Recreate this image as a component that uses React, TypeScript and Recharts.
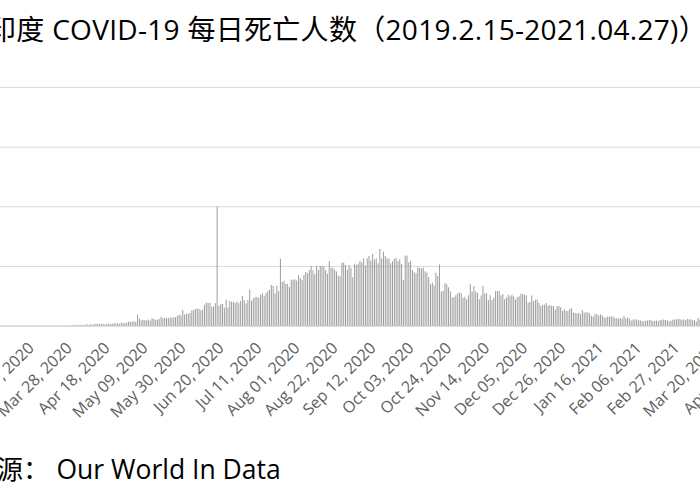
import React from "react";
import { BarChart, Bar, XAxis, YAxis, CartesianGrid } from "recharts";

// India COVID-19 daily new deaths, 2020-02-15 .. 2021-04-27
const FEB_2020 = [0, 0, 0, 0, 0, 0, 0, 0, 0, 0, 0, 0, 0, 0, 0];
const MAR_2020 = [0, 0, 0, 0, 0, 0, 0, 0, 0, 0, 0, 1, 0, 1, 0, 0, 1, 0, 1, 1, 0, 3, 2, 1, 2, 3, 1, 6, 6, 3, 17];
const APR_2020 = [3, 15, 15, 12, 17, 30, 12, 35, 20, 33, 37, 32, 36, 35, 38, 26, 33, 37, 31, 36, 45, 45, 47, 38, 57, 56, 47, 57, 71, 67];
const MAY_2020 = [76, 81, 69, 194, 127, 94, 103, 96, 95, 111, 86, 129, 121, 100, 104, 119, 157, 131, 140, 132, 134, 142, 137, 146, 148, 170, 194, 175, 269, 193, 205];
const JUN_2020 = [204, 217, 259, 273, 286, 294, 287, 265, 272, 357, 396, 386, 389, 325, 325, 380, 2003, 336, 370, 375, 306, 445, 312, 418, 407, 407, 384, 410, 380, 418];
const JUL_2020 = [507, 434, 379, 442, 613, 425, 467, 482, 487, 475, 519, 551, 500, 553, 582, 606, 687, 671, 543, 681, 587, 1129, 740, 757, 705, 708, 654, 779, 775, 779, 764];
const AUG_2020 = [853, 803, 771, 857, 904, 886, 933, 1007, 933, 871, 1007, 941, 1006, 1007, 996, 941, 876, 1092, 977, 983, 945, 912, 848, 836, 1059, 1063, 1021, 948, 1021, 971, 816];
const SEP_2020 = [1045, 1025, 1043, 1089, 1065, 1133, 1016, 1133, 1172, 1096, 1209, 1114, 1136, 1054, 1290, 1132, 1247, 1174, 1130, 1133, 1053, 1085, 1129, 1141, 1089, 1124, 1039, 776, 1179, 1181];
const OCT_2020 = [1069, 1095, 940, 903, 884, 986, 971, 963, 980, 918, 895, 816, 706, 730, 680, 895, 837, 1033, 579, 587, 717, 702, 650, 578, 480, 488, 517, 543, 563, 551, 470];
const NOV_2020 = [490, 449, 514, 704, 577, 670, 577, 559, 447, 512, 673, 547, 550, 435, 516, 435, 474, 585, 584, 590, 511, 537, 447, 480, 524, 500, 524, 496, 443, 482];
const DEC_2020 = [501, 540, 540, 524, 512, 391, 402, 512, 415, 442, 445, 387, 330, 354, 355, 387, 338, 347, 341, 336, 278, 333, 336, 314, 251, 279, 252, 251, 286, 299, 228];
const JAN_2021 = [217, 214, 224, 201, 264, 222, 234, 228, 212, 168, 161, 201, 198, 175, 191, 181, 145, 137, 162, 151, 163, 155, 136, 131, 127, 136, 123, 173, 127, 142, 127];
const FEB_2021 = [94, 107, 107, 110, 95, 96, 84, 78, 87, 94, 100, 95, 83, 90, 91, 78, 101, 104, 110, 101, 97, 78, 89, 104, 108, 113, 118, 113];
const MAR_2021 = [106, 110, 98, 117, 108, 113, 96, 97, 77, 133, 99, 116, 112, 115, 131, 131, 188, 172, 154, 197, 161, 212, 199, 275, 271, 257, 291, 312, 272, 354, 459];
const APR_2021 = [469, 714, 514, 478, 446, 630, 685, 794, 780, 839, 904, 879, 1027, 1038, 1185, 1341, 1501, 1619, 1761, 2023, 2104, 2263, 2624, 2767, 2812, 2771, 3293];

const DEATHS = [
  ...FEB_2020, ...MAR_2020, ...APR_2020, ...MAY_2020, ...JUN_2020, ...JUL_2020,
  ...AUG_2020, ...SEP_2020, ...OCT_2020, ...NOV_2020, ...DEC_2020,
  ...JAN_2021, ...FEB_2021, ...MAR_2021, ...APR_2021,
];

const MONTH_NAMES = ["Jan", "Feb", "Mar", "Apr", "May", "Jun", "Jul", "Aug", "Sep", "Oct", "Nov", "Dec"];
const Y_TICKS = [0, 1000, 2000, 3000, 4000];
const TITLE = "印度 COVID-19 每日死亡人数（2019.2.15-2021.04.27)）";
const SOURCE_LABEL = "数据来源：";
const SOURCE_NAME = "Our World In Data";

function buildDates(n: number): string[] {
  const out: string[] = [];
  const d = new Date(Date.UTC(2020, 1, 15));
  for (let i = 0; i < n; i++) {
    out.push(`${MONTH_NAMES[d.getUTCMonth()]} ${String(d.getUTCDate()).padStart(2, "0")}, ${d.getUTCFullYear()}`);
    d.setUTCDate(d.getUTCDate() + 1);
  }
  return out;
}

const DATES = buildDates(DEATHS.length);
const data = DATES.map((date, i) => ({ date, deaths: DEATHS[i] }));

const LATIN = "'Open Sans', 'Noto Sans CJK SC', sans-serif";

const DateTick = (props: any) => {
  const { x, y, payload } = props;
  const ax = x + 2;
  const ay = y + 23;
  return (
    <text
      x={ax}
      y={ay}
      transform={`rotate(-45, ${ax}, ${ay})`}
      textAnchor="end"
      fill="#606060"
      fontSize={16}
      fontFamily={LATIN}
    >
      {payload.value}
    </text>
  );
};

export default function App() {
  return (
    <div
      style={{
        position: "fixed",
        left: 0,
        top: 0,
        width: 700,
        height: 500,
        overflow: "hidden",
        background: "#fff",
      }}
    >
      <div
        style={{
          position: "absolute",
          left: -12,
          top: 10,
          whiteSpace: "nowrap",
          fontFamily: LATIN,
          fontSize: 28,
          letterSpacing: 0.3,
          lineHeight: "38px",
          color: "#000",
        }}
      >
        {TITLE}
      </div>
      <div style={{ position: "absolute", left: -6.4, top: 0 }}>
        <BarChart
          width={792}
          height={426}
          data={data}
          margin={{ top: 87.5, right: 0, bottom: 0, left: 0 }}
          barCategoryGap="12%"
        >
          <CartesianGrid vertical={false} stroke="#d9d9d9" />
          <YAxis hide domain={[0, 4000]} ticks={Y_TICKS} />
          <XAxis
            dataKey="date"
            interval={20}
            height={100}
            tickLine={false}
            tickSize={0}
            tickMargin={0}
            axisLine={{ stroke: "#d0d0d0" }}
            tick={<DateTick />}
          />
          <Bar dataKey="deaths" fill="#9c9c9c" isAnimationActive={false} />
        </BarChart>
      </div>
      <div
        style={{
          position: "absolute",
          left: -83,
          top: 451,
          whiteSpace: "nowrap",
          fontFamily: LATIN,
          fontSize: 26.5,
          lineHeight: "36px",
          color: "#000",
        }}
      >
        {SOURCE_LABEL} {SOURCE_NAME}
      </div>
    </div>
  );
}
